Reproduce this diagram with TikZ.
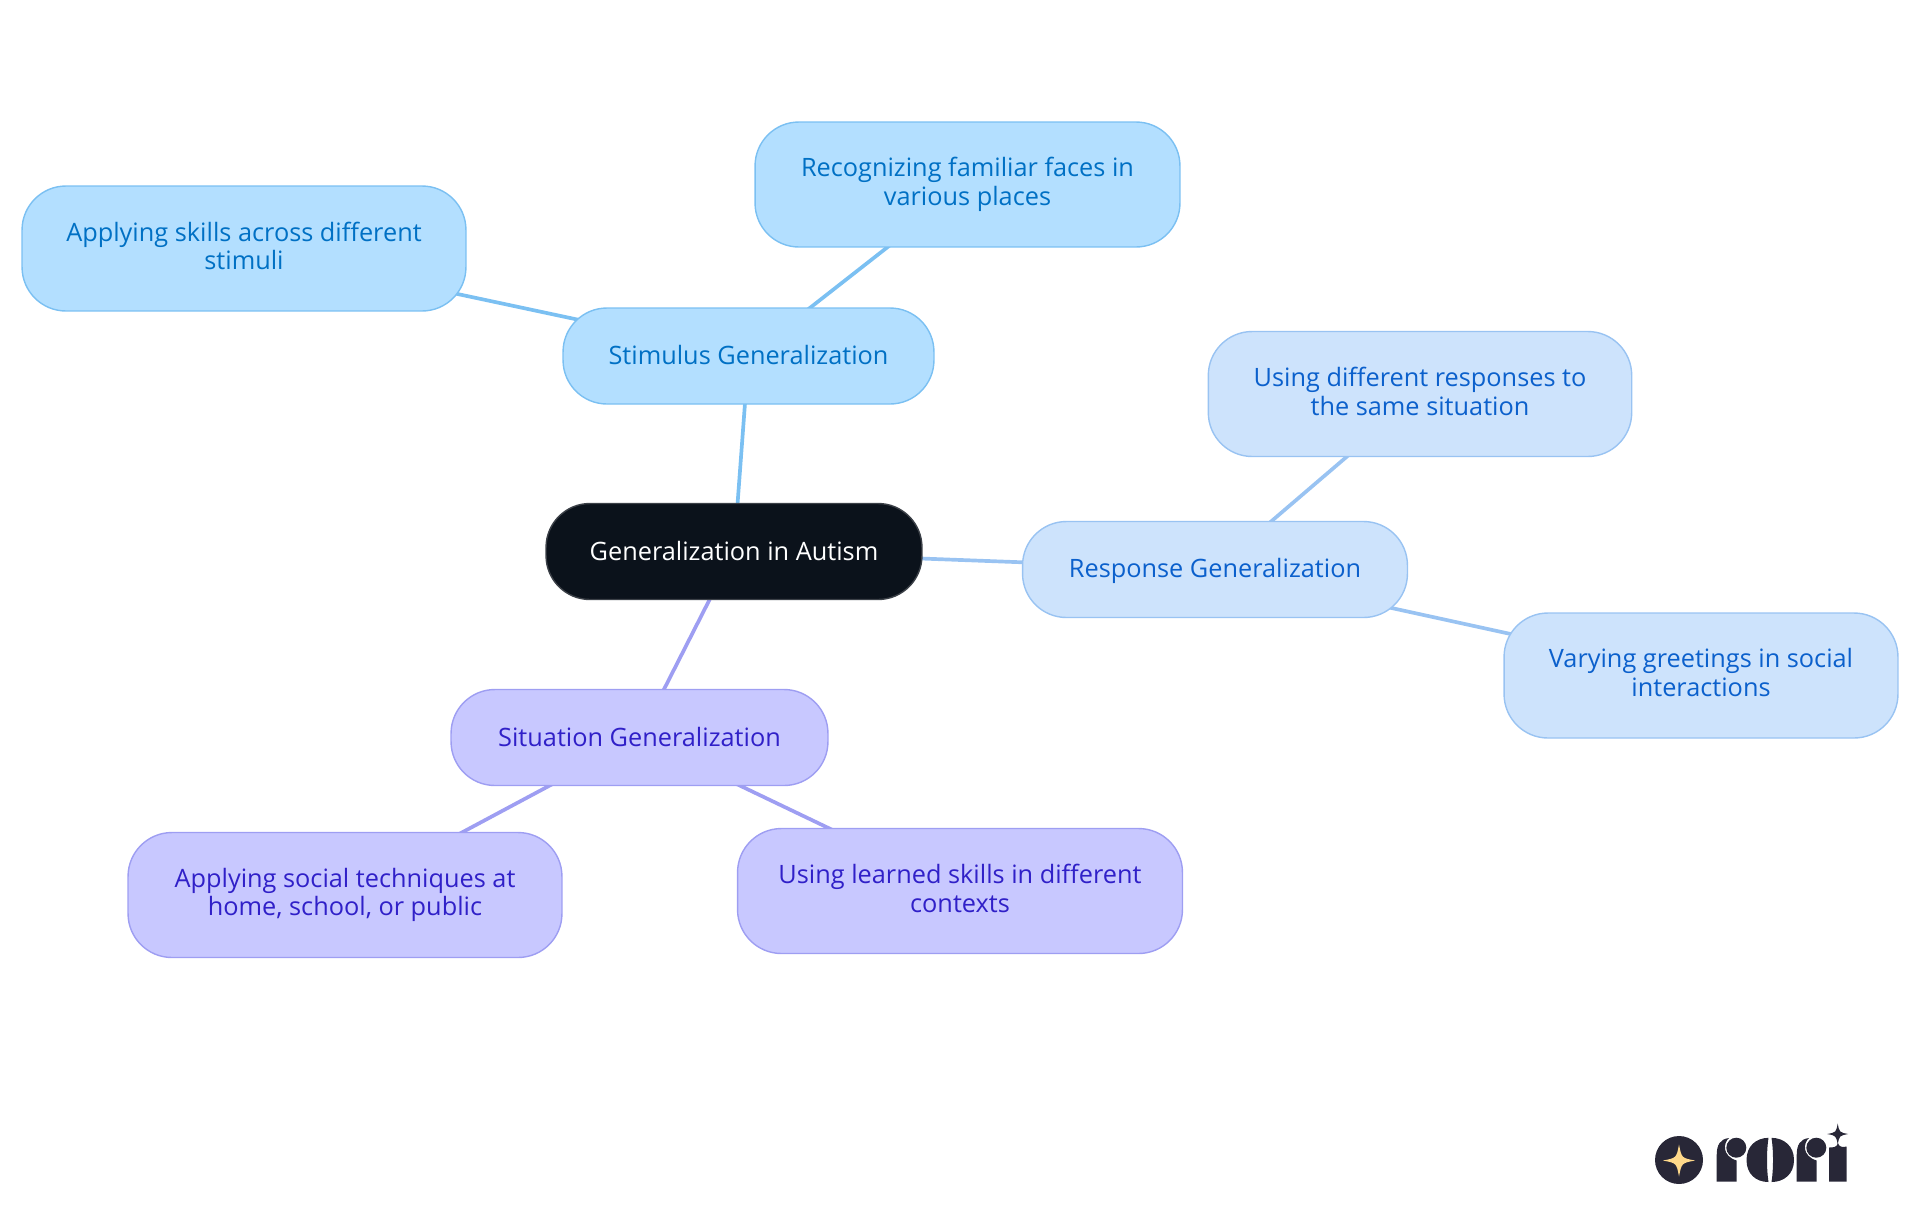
\documentclass[tikz,border=0pt]{standalone}
\usepackage{fontspec}
\setmainfont{Open Sans}
\usetikzlibrary{backgrounds}
\definecolor{rootfill}{HTML}{0B121B}
\definecolor{rootline}{HTML}{3B4047}
\definecolor{stimfill}{HTML}{B3DFFF}
\definecolor{stimline}{HTML}{7BC0F2}
\definecolor{stimtext}{HTML}{0070C4}
\definecolor{respfill}{HTML}{CDE3FC}
\definecolor{respline}{HTML}{99C3F2}
\definecolor{resptext}{HTML}{0B60CC}
\definecolor{situfill}{HTML}{C8C8FF}
\definecolor{situline}{HTML}{9E9EF2}
\definecolor{situtext}{HTML}{3020C8}
\definecolor{logodark}{HTML}{282737}
\definecolor{logostar}{HTML}{FFD98A}
\tikzset{
  mapnode/.style={draw, line width=0.8pt, rounded corners=25pt, inner sep=0pt, align=center,
    font=\fontsize{14.4}{16.3}\selectfont,
    execute at begin node={\rule{0pt}{13pt}}, execute at end node={\rule[-3.2pt]{0pt}{3.2pt}}},
  rootnode/.style={mapnode, fill=rootfill, draw=rootline, text=white},
  stimnode/.style={mapnode, fill=stimfill, draw=stimline, text=stimtext},
  respnode/.style={mapnode, fill=respfill, draw=respline, text=resptext},
  situnode/.style={mapnode, fill=situfill, draw=situline, text=situtext},
  link/.style={line width=2.1pt}
}
\newcommand{\sparkle}[4]{\fill[#4] ({#1+#3},#2) .. controls ({#1+0.16*#3},{#2-0.16*#3}) .. (#1,{#2-#3}) .. controls ({#1-0.16*#3},{#2-0.16*#3}) .. ({#1-#3},#2) .. controls ({#1-0.16*#3},{#2+0.16*#3}) .. (#1,{#2+#3}) .. controls ({#1+0.16*#3},{#2+0.16*#3}) .. cycle;}
\begin{document}
\begin{tikzpicture}[x=0.02cm,y=-0.02cm]
\useasboundingbox (0,0) rectangle (1920,1215);
%nodes
\node[rootnode, minimum width=7.52cm, minimum height=1.92cm] (root) at (734,551.5) {Generalization in Autism};
\node[stimnode, minimum width=7.42cm, minimum height=1.92cm] (stimulus) at (748.5,356) {Stimulus Generalization};
\node[stimnode, minimum width=8.5cm, minimum height=2.5cm] (faces) at (967.5,184.5) {Recognizing familiar faces in\\various places};
\node[stimnode, minimum width=8.88cm, minimum height=2.5cm] (skills) at (244,248.5) {Applying skills across different\\stimuli};
\node[respnode, minimum width=7.7cm, minimum height=1.92cm] (response) at (1215,569.5) {Response Generalization};
\node[respnode, minimum width=8.47cm, minimum height=2.5cm] (responses) at (1420,394) {Using different responses to\\the same situation};
\node[respnode, minimum width=7.88cm, minimum height=2.5cm] (greetings) at (1701,675.5) {Varying greetings in social\\interactions};
\node[situnode, minimum width=7.54cm, minimum height=1.92cm] (situation) at (639.5,737.5) {Situation Generalization};
\node[situnode, minimum width=8.68cm, minimum height=2.5cm] (social) at (345,895) {Applying social techniques at\\home, school, or public};
\node[situnode, minimum width=8.9cm, minimum height=2.5cm] (learned) at (960,891) {Using learned skills in different\\contexts};
%links
\begin{scope}[on background layer]
\draw[link, stimline] (root.center) -- (stimulus.center);
\draw[link, stimline] (stimulus.center) -- (faces.center);
\draw[link, stimline] (stimulus.center) -- (skills.center);
\draw[link, respline] (root.center) -- (response.center);
\draw[link, respline] (response.center) -- (responses.center);
\draw[link, respline] (response.center) -- (greetings.center);
\draw[link, situline] (root.center) -- (situation.center);
\draw[link, situline] (situation.center) -- (social.center);
\draw[link, situline] (situation.center) -- (learned.center);
\end{scope}
%logo
\fill[logodark] (1679,1160) circle (24);
\sparkle{1679}{1160.5}{16}{logostar}
\foreach \shiftx in {0,80} {
  \begin{scope}[xshift=\shiftx*0.02cm]
  \fill[logodark] (1716.7,1181.7) -- (1716.7,1155) .. controls (1716.7,1145) and (1720,1139) .. (1729,1138) .. controls (1723,1143) and (1722,1156) .. (1736.7,1160.5) -- (1736.7,1181.7) -- cycle;
  \fill[logodark] (1736.3,1147.7) circle (10);
  \end{scope}
}
\fill[logodark] (1746.5,1160) .. controls (1746.5,1146) and (1756,1138) .. (1768.5,1137.8) .. controls (1766.5,1150) and (1766.5,1170) .. (1768.5,1182) .. controls (1756,1182) and (1746.5,1174) .. (1746.5,1160) -- cycle;
\fill[logodark] (1794,1160) .. controls (1794,1146) and (1784,1138) .. (1771.5,1137.8) .. controls (1773.5,1150) and (1773.5,1170) .. (1771.5,1182) .. controls (1784,1182) and (1794,1174) .. (1794,1160) -- cycle;
\fill[logodark] (1829,1181.7) -- (1829,1147.5) .. controls (1834,1147.5) and (1837,1147) .. (1838,1143) .. controls (1839,1147) and (1842,1147.5) .. (1846.7,1146.5) -- (1846.7,1181.7) -- cycle;
\sparkle{1837.7}{1134}{10.5}{logodark}
\end{tikzpicture}
\end{document}
